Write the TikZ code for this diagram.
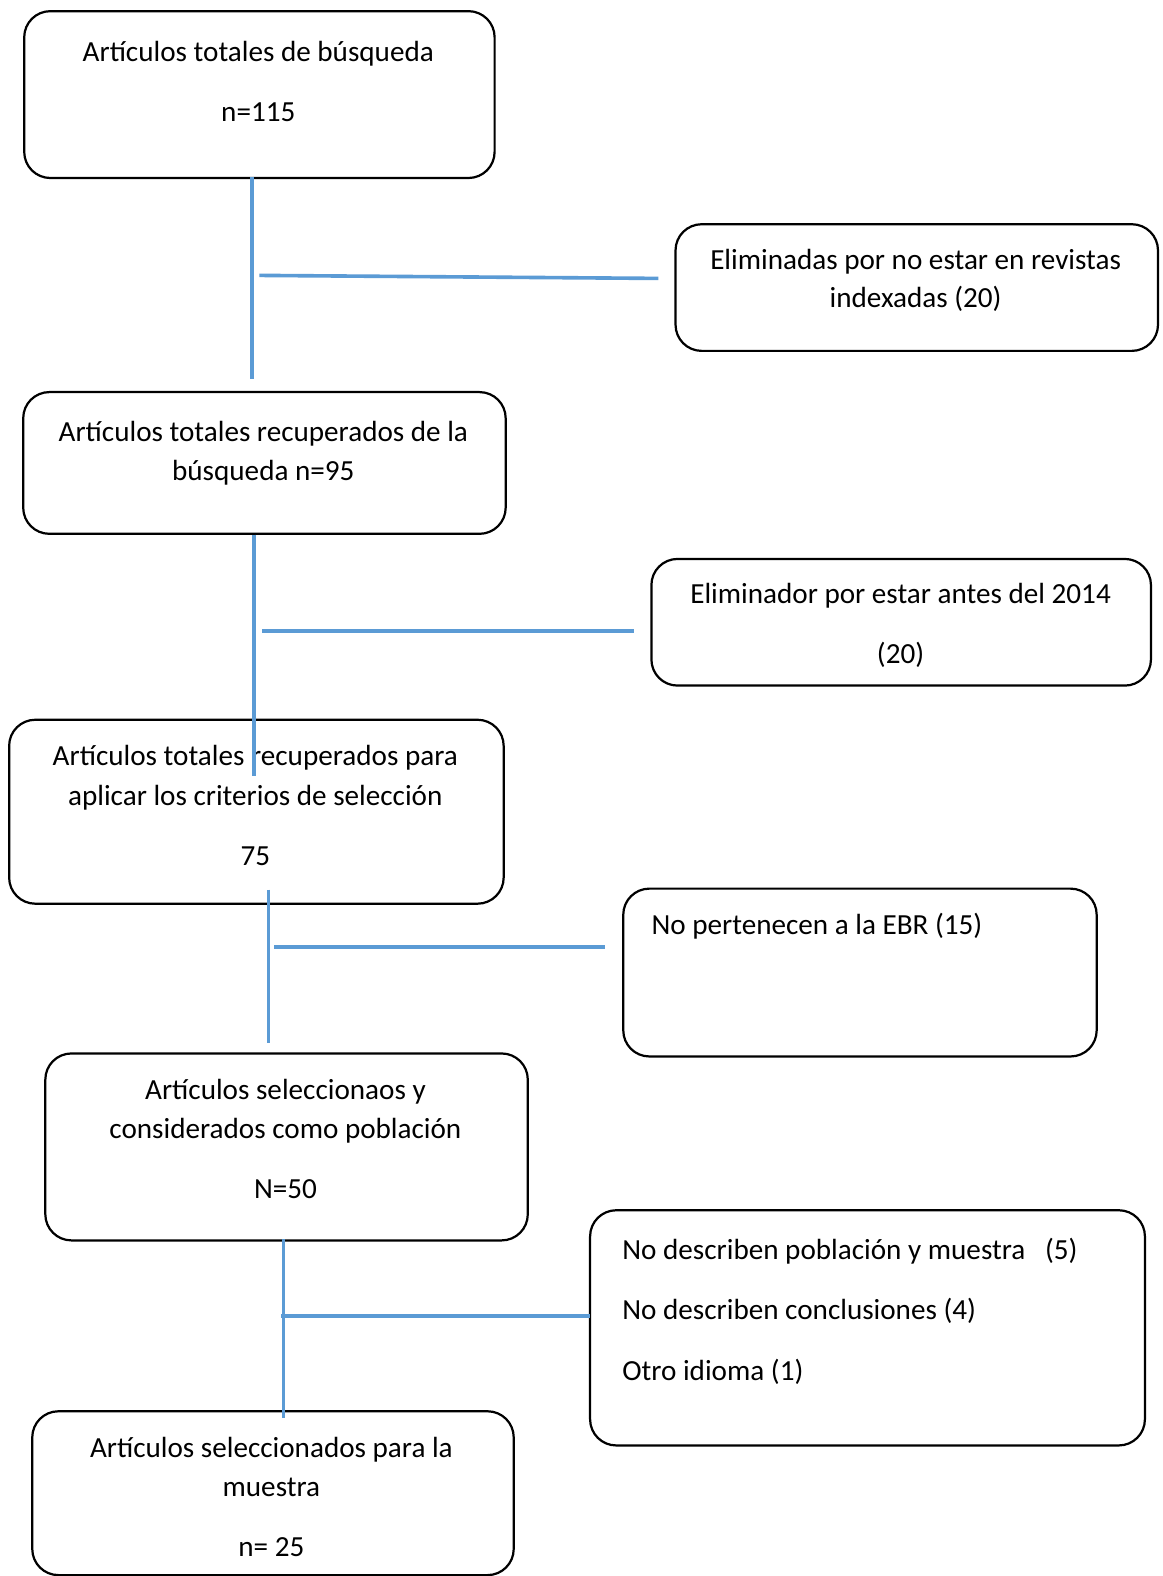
\documentclass[tikz,border=0pt]{standalone}
\usepackage{fontspec}
\setmainfont{Carlito}
\definecolor{lineblue}{RGB}{91,155,213}
\begin{document}
\begin{tikzpicture}[x=1pt,y=-1pt,
  box/.style={draw=black, line width=2.2pt, rounded corners=26pt, inner sep=0pt, anchor=north west},
  txt/.style={font=\fontsize{29}{39}\selectfont, anchor=base, inner sep=0pt},
  ltxt/.style={font=\fontsize{29}{39}\selectfont, anchor=base west, inner sep=0pt},
  conn/.style={draw=lineblue, line width=3.6pt}]
\useasboundingbox[fill=white] (0,0) rectangle (1157,1568);

% boxes
\node[box, minimum width=468pt, minimum height=166pt] (b1) at (23,10) {};
\node[box, minimum width=480pt, minimum height=126pt] (r1) at (671,222) {};
\node[box, minimum width=480pt, minimum height=141pt] (b2) at (22,389) {};
\node[box, minimum width=497pt, minimum height=126pt] (r2) at (647,555) {};
\node[box, minimum width=492pt, minimum height=183pt] (b3) at (8,715) {};
\node[box, minimum width=471pt, minimum height=167pt] (r3) at (619,883) {};
\node[box, minimum width=480pt, minimum height=186pt] (b4) at (44,1047) {};
\node[box, minimum width=552pt, minimum height=234pt] (r4) at (586,1203) {};
\node[box, minimum width=479pt, minimum height=163pt] (b5) at (31,1403) {};

% texts
\node[txt] (t1a) at (257,61) {Artículos totales de búsqueda};
\node[txt] (t1b) at (257,121) {n=115};
\node[txt] (s1a) at (911,268) {Eliminadas por no estar en revistas};
\node[txt] (s1b) at (911,306) {indexadas (20)};
\node[txt] (t2a) at (262,439) {Artículos totales recuperados de la};
\node[txt] (t2b) at (262,478) {búsqueda n=95};
\node[txt] (s2a) at (896,600) {Eliminador por estar antes del 2014};
\node[txt] (s2b) at (896,660) {(20)};
\node[txt] (t3a) at (254,762) {Artículos totales recuperados para};
\node[txt] (t3b) at (254,801) {aplicar los criterios de selección};
\node[txt] (t3c) at (254,861) {75};
\node[ltxt] (s3a) at (648,930) {No pertenecen a la EBR (15)};
\node[txt] (t4a) at (284,1094) {Artículos seleccionaos y};
\node[txt] (t4b) at (284,1133) {considerados como población};
\node[txt] (t4c) at (284,1192) {N=50};
\node[ltxt] (s4a) at (619,1253) {No describen población y muestra \ \ (5)};
\node[ltxt] (s4b) at (619,1313) {No describen conclusiones (4)};
\node[ltxt] (s4c) at (619,1373) {Otro idioma (1)};
\node[txt] (t5a) at (270,1450) {Artículos seleccionados para la};
\node[txt] (t5b) at (270,1489) {muestra};
\node[txt] (t5c) at (270,1549) {n= 25};

% connector end points
\coordinate (v1s) at (251,176);
\coordinate (v1e) at (251,377);
\coordinate (h1s) at (258,274);
\coordinate (h1e) at (655,277);
\coordinate (v2s) at (253,532);
\coordinate (v2e) at (253,772);
\coordinate (h2s) at (261,628);
\coordinate (h2e) at (631,628);
\coordinate (v3s) at (267,885);
\coordinate (v3e) at (267,1038);
\coordinate (h3s) at (273,942);
\coordinate (h3e) at (602,942);
\coordinate (v4s) at (282,1233);
\coordinate (v4e) at (282,1411);
\coordinate (h4s) at (280,1309);
\coordinate (h4e) at (587,1309);

% connectors
\draw[conn] (v1s) -- (v1e);
\draw[conn] (h1s) -- (h1e);
\draw[conn] (v2s) -- (v2e);
\draw[conn] (h2s) -- (h2e);
\draw[conn] (v3s) -- (v3e);
\draw[conn] (h3s) -- (h3e);
\draw[conn] (v4s) -- (v4e);
\draw[conn] (h4s) -- (h4e);
\end{tikzpicture}
\end{document}
